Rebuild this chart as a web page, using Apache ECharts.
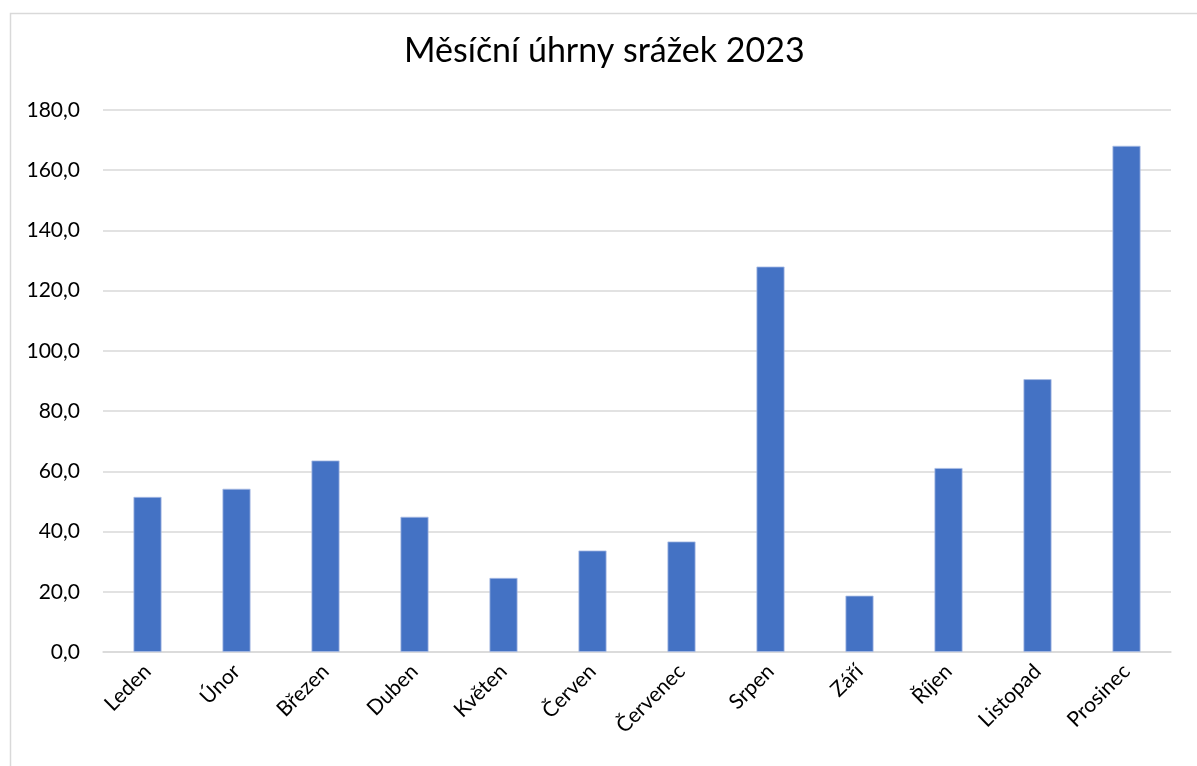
<!DOCTYPE html>
<html>
<head>
<meta charset="utf-8">
<script src="https://cdn.jsdelivr.net/npm/echarts@6/dist/echarts.min.js"></script>
<style>html,body{margin:0;padding:0;background:#fff}#c{width:1197px;height:766px}</style>
</head>
<body>
<div id="c"></div>
<script>
const titleText = 'Měsíční úhrny srážek 2023';
const categories = ['Leden','Únor','Březen','Duben','Květen','Červen','Červenec','Srpen','Září','Říjen','Listopad','Prosinec'];
const values = [51.5, 54.2, 63.6, 44.9, 24.6, 33.7, 36.7, 128.0, 18.7, 61.1, 90.6, 168.1];
const yMin = 0, yMax = 180, yStep = 20;

const chart = echarts.init(document.getElementById('c'));
chart.setOption({
  animation: false,
  backgroundColor: '#ffffff',
  textStyle: { fontFamily: 'Lato, "Open Sans", sans-serif' },
  graphic: [{
    type: 'rect', left: 8, top: 11, silent: true,
    shape: { width: 1300, height: 900 },
    style: { fill: 'none', stroke: '#d9d9d9', lineWidth: 1.5 }
  }],
  title: {
    text: titleText, left: 399, top: 29,
    textStyle: { fontSize: 34, fontWeight: 'normal', color: '#000', fontFamily: 'Lato, "Open Sans", sans-serif' }
  },
  grid: { left: 103, right: 26, top: 110, bottom: 114 },
  xAxis: {
    type: 'category', data: categories,
    axisLine: { lineStyle: { color: '#d9d9d9', width: 1.5 } },
    axisTick: { show: false },
    axisLabel: { rotate: 45, fontSize: 21, color: '#000', margin: 16, interval: 0 }
  },
  yAxis: {
    type: 'value', min: yMin, max: yMax, interval: yStep,
    axisLine: { show: false }, axisTick: { show: false },
    splitLine: { lineStyle: { color: '#d9d9d9', width: 1.5 } },
    axisLabel: { fontSize: 21, color: '#000', margin: 23, formatter: v => v.toFixed(1).replace('.', ',') }
  },
  series: [{
    type: 'bar', data: values, barWidth: '31.5%',
    itemStyle: { color: '#4472c4', borderColor: '#a9bde4', borderWidth: 0.8 }
  }]
});
</script>
</body>
</html>
